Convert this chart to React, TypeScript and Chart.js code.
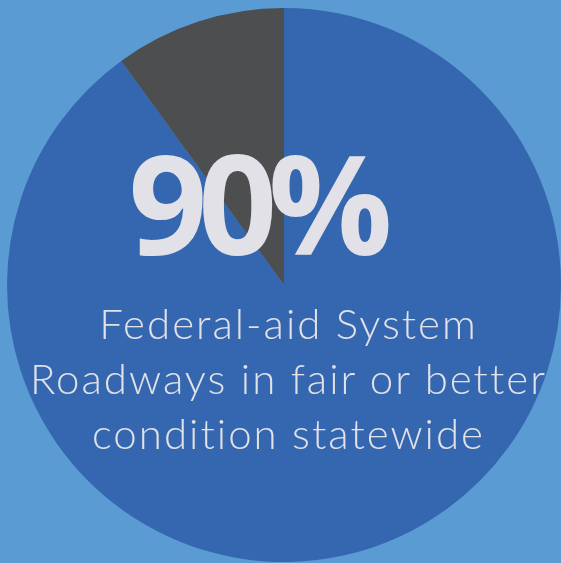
import React, { useEffect, useRef } from "react";
import { Chart, registerables } from "chart.js";

Chart.register(...registerables);

const categories = ["Fair or better", "Poor"];
const values = [90, 10];
const headline = "90%";
const captionLines = ["Federal-aid System", "Roadways in fair or better", "condition statewide"];

const BG = "#5b9bd3";
const BLUE = "#3567b1";
const GRAY = "#4d4e50";
const TEXT = "#e1e1e7";

export default function App() {
  const ref = useRef<HTMLCanvasElement | null>(null);

  useEffect(() => {
    document.body.style.margin = "0";
    document.body.style.background = BG;
    const ctx = ref.current!.getContext("2d")!;
    const chart = new Chart(ctx, {
      type: "pie",
      data: {
        labels: categories,
        datasets: [
          {
            data: values,
            backgroundColor: [BLUE, GRAY],
            borderWidth: 0,
          },
        ],
      },
      options: {
        responsive: false,
        animation: false,
        layout: { padding: { left: 7, right: 0, top: 8, bottom: 1 } },
        plugins: { legend: { display: false }, tooltip: { enabled: false } },
      },
    });
    return () => chart.destroy();
  }, []);

  return (
    <div style={{ position: "relative", width: 561, height: 563, background: BG, overflow: "hidden" }}>
      <canvas ref={ref} width={561} height={563} style={{ display: "block" }} />
      <div
        style={{
          position: "absolute",
          left: 0,
          width: 512,
          top: 121,
          textAlign: "center",
          fontFamily: "'Open Sans', sans-serif",
          fontWeight: 700,
          fontSize: 138,
          lineHeight: "160px",
          letterSpacing: -9,
          color: TEXT,
        }}
      >
        {headline}
      </div>
      <div
        style={{
          position: "absolute",
          left: 0,
          width: 577,
          top: 296,
          textAlign: "center",
          fontFamily: "Lato, sans-serif",
          fontWeight: 300,
          fontSize: 42,
          lineHeight: "55px",
          letterSpacing: 2,
          color: TEXT,
        }}
      >
        {captionLines.map((l, i) => (
          <div key={i}>{l}</div>
        ))}
      </div>
    </div>
  );
}
